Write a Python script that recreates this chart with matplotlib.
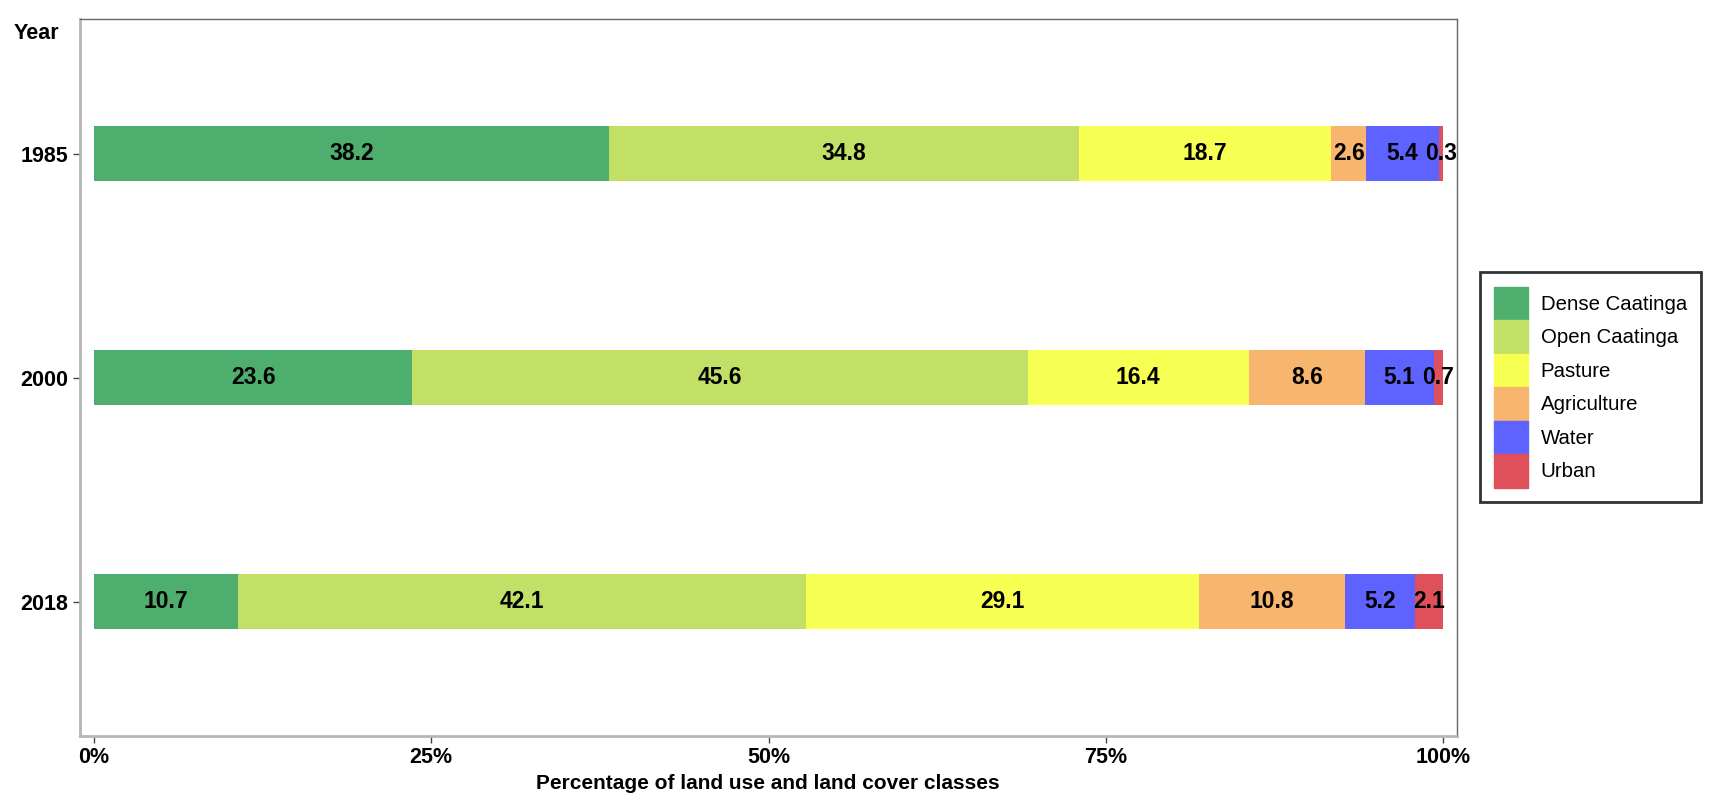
import matplotlib.pyplot as plt
import matplotlib.patches as mpatches
import numpy as np

plt.rcParams['font.family'] = ['Liberation Sans', 'DejaVu Sans']

# %% data
years = ['1985', '2000', '2018']
classes = ['Dense Caatinga', 'Open Caatinga', 'Pasture', 'Agriculture', 'Water', 'Urban']
colors = ['#4DAE6D', '#C2E066', '#F7FF52', '#F7B56E', '#5E63FF', '#E0505A']
dense = [38.2, 23.6, 10.7]
open_c = [34.8, 45.6, 42.1]
pasture = [18.7, 16.4, 29.1]
agri = [2.6, 8.6, 10.8]
water = [5.4, 5.1, 5.2]
urban = [0.3, 0.7, 2.1]
series = [dense, open_c, pasture, agri, water, urban]

# %% plot
fig = plt.figure(figsize=(17.3, 8.1), dpi=100)
ax = fig.add_axes([0.046, 0.0914, 0.796, 0.885])

ypos = np.arange(1, len(years) + 1)
left = np.zeros(len(years))
for vals, col, name in zip(series, colors, classes):
    vals = np.array(vals)
    ax.barh(ypos, vals, left=left, height=0.245, color=col, label=name, linewidth=0)
    for y, l, v in zip(ypos, left, vals):
        ax.text(l + v / 2, y, f'{v:.1f}', ha='center', va='center',
                fontsize=16.5, fontweight='bold', color='black')
    left = left + vals

ax.set_ylim(3.6, 0.4)
ax.set_xlim(-1.06, 101)
ax.set_yticks(ypos)
ax.set_yticklabels(years)
ax.set_xticks([0, 25, 50, 75, 100])
ax.set_xticklabels(['0%', '25%', '50%', '75%', '100%'])
for lab in ax.get_xticklabels() + ax.get_yticklabels():
    lab.set_fontweight('bold')
    lab.set_fontsize(15.5)
ax.tick_params(length=5, color='#444444', width=1, pad=3)
for s in ax.spines.values():
    s.set_color('#666666')
    s.set_linewidth(1)
ax.spines['left'].set_color('#b5b5b5')
ax.spines['left'].set_linewidth(2)
ax.spines['bottom'].set_color('#b5b5b5')
ax.spines['bottom'].set_linewidth(2)

ax.set_xlabel('Percentage of land use and land cover classes', fontsize=15, fontweight='bold', labelpad=4)
fig.text(0.008, 0.959, 'Year', fontsize=15.5, fontweight='bold', ha='left', va='center')

handles = [mpatches.Patch(color=c, label=n) for c, n in zip(colors, classes)]
leg = fig.legend(handles=handles, loc='center left', bbox_to_anchor=(0.8555, 0.522),
                 fontsize=14.7, frameon=True, fancybox=False, edgecolor='black',
                 handlelength=1.67, handleheight=2.15, labelspacing=0.0, handletextpad=0.6,
                 borderpad=0.7, borderaxespad=0)
leg.get_frame().set_linewidth(2)

fig.savefig('out.png', dpi=100, facecolor='white')
